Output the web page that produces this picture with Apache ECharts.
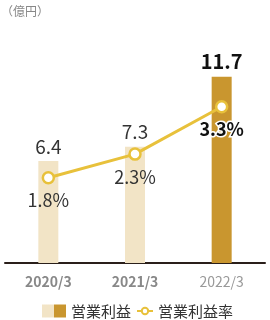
<!DOCTYPE html>
<html lang="ja">
<head>
    <meta charset="UTF-8">
    <title>営業利益</title>
    <script src="https://cdn.jsdelivr.net/npm/echarts@6/dist/echarts.min.js"></script>
</head>
<body style="margin:0;background:#fff;">
<div id="chart" style="width:270px;height:320px;"></div>
<script type="text/javascript">
    // データ
    let years = ['2020/3', '2021/3', '2022/3'];
    let profit = [6.4, 7.3, 11.7];
    let profitRate = [1.8, 2.3, 3.3];

    let LIGHT = '#F2E4C6';
    let DARK = '#C9962F';
    let LINE = '#E8C13B';
    let FONT = '"Noto Sans CJK JP", "Noto Sans", sans-serif';

    let myChart = echarts.init(document.getElementById('chart'));

    // 最後の年だけ濃い色・太字
    function isLast(i) {
        return i === years.length - 1;
    }

    let legendText = {fontSize: 15, color: '#333', fontFamily: FONT, lineHeight: 18, height: 18};

    let option = {
        textStyle: {fontFamily: FONT},
        title: {
            text: '（億円）',
            left: -4,
            top: 0,
            textStyle: {fontSize: 12, fontWeight: 'normal', color: '#888', fontFamily: FONT}
        },
        // 凡例は二つに分けてアイコンの大きさを変える
        legend: [
            {
                top: 302,
                left: 42,
                padding: 0,
                itemWidth: 24,
                itemHeight: 13,
                textStyle: legendText,
                data: [{name: '営業利益', icon: 'rect'}]
            },
            {
                top: 302,
                left: 136,
                padding: 0,
                itemWidth: 16,
                itemHeight: 8,
                textStyle: legendText,
                lineStyle: {width: 2},
                itemStyle: {borderWidth: 2},
                data: [{name: '営業利益率'}]
            }
        ],
        grid: {left: 5, right: 5, top: 40, bottom: 57},
        xAxis: {
            type: 'category',
            data: years.map(function (y, i) {
                return {
                    value: y,
                    textStyle: isLast(i)
                        ? {fontWeight: 'normal', color: '#999'}
                        : {fontWeight: 'bold', color: '#888'}
                };
            }),
            axisTick: {show: false},
            axisLine: {lineStyle: {color: '#2a1f1a', width: 2}},
            axisLabel: {fontSize: 14, margin: 12, fontFamily: FONT}
        },
        yAxis: [
            {type: 'value', min: 0, max: 14, show: false, splitLine: {show: false}},
            {type: 'value', min: 0, max: 4.71, show: false, splitLine: {show: false}}
        ],
        series: [
            {
                name: '営業利益',
                type: 'bar',
                barWidth: 20,
                itemStyle: {
                    // 凡例用の二色アイコン
                    color: new echarts.graphic.LinearGradient(0, 0, 1, 0, [
                        {offset: 0, color: LIGHT},
                        {offset: 0.5, color: LIGHT},
                        {offset: 0.5, color: DARK},
                        {offset: 1, color: DARK}
                    ])
                },
                data: profit.map(function (v, i) {
                    return {
                        value: v,
                        itemStyle: {color: isLast(i) ? DARK : LIGHT},
                        label: isLast(i)
                            ? {fontWeight: 'bold', color: '#111', fontSize: 20}
                            : {fontWeight: 'normal', color: '#333', fontSize: 19}
                    };
                }),
                label: {
                    show: true,
                    position: 'top',
                    distance: 5,
                    fontFamily: FONT
                },
                z: 1
            },
            {
                name: '営業利益率',
                type: 'line',
                yAxisIndex: 1,
                symbol: 'circle',
                symbolSize: 11,
                lineStyle: {color: LINE, width: 3},
                itemStyle: {color: '#fff', borderColor: LINE, borderWidth: 2.5},
                data: profitRate.map(function (v, i) {
                    return {
                        value: v,
                        label: isLast(i)
                            ? {fontWeight: 'bold', color: '#111', textBorderColor: '#fff', textBorderWidth: 3}
                            : {fontWeight: 'normal', color: '#333'}
                    };
                }),
                label: {
                    show: true,
                    position: 'bottom',
                    distance: 7,
                    fontSize: 18,
                    fontFamily: FONT,
                    formatter: function (p) {
                        return p.value.toFixed(1) + '%';
                    }
                },
                z: 3
            }
        ]
    };

    myChart.setOption(option);
</script>
</body>
</html>
